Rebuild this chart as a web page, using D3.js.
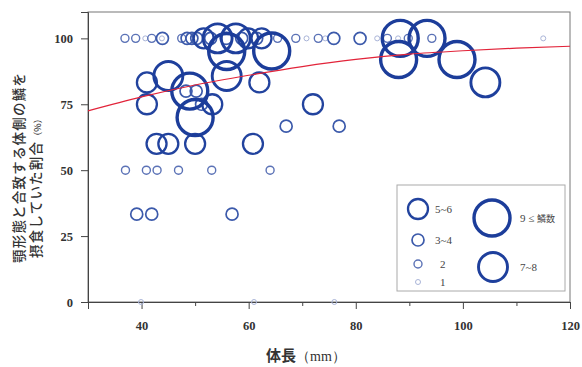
<!DOCTYPE html>
<html>
<head>
<meta charset="utf-8">
<script src="https://cdn.jsdelivr.net/npm/d3@7"></script>
<style>
  body { margin: 0; background: #fff; }
  .tick text { font-family: "Liberation Serif", serif; font-weight: bold; font-size: 12.5px; fill: #333; }
</style>
</head>
<body>
<div id="chart"></div>
<script>
// body length (mm), ratio of scales matching jaw morphology (%), scale count class
const lengths = [
  36.9, 38.9, 40.7, 41.9, 43.9, 43.8, 47.5, 48.5, 49.4, 50.3, 51.6, 54.2, 57.6, 59.9,
  52.9, 55.8, 58.7, 62.4, 61.5, 65.4, 68.8, 70.8, 73.0, 74.3, 75.9, 80.8, 84.0, 85.9,
  87.9, 89.8, 94.2, 88.3, 93.3, 115.0,
  41.0, 45.0, 49.0, 50.0, 41.0, 48.3, 50.2, 51.2, 53.2, 55.9, 55.9, 62.0, 64.3,
  42.8, 45.0, 50.0, 60.8,
  37.0, 40.9, 42.9, 46.9, 53.1, 64.0,
  39.1, 41.9, 56.9,
  39.9, 61.0, 76.0,
  67.0, 76.9, 72.0, 88.0, 98.9, 104.2
];
const ratios = [
  100, 100, 100, 100, 100, 100, 100, 100, 100, 100, 100, 100, 100, 100,
  100, 100, 100, 100, 100, 100, 100, 100, 100, 100, 100, 100, 100, 100,
  100, 100, 100, 100, 100, 100,
  83.3, 85.7, 80, 70, 75, 80, 80, 75, 75, 85.7, 95, 83.3, 95.2,
  60, 60, 60, 60,
  50, 50, 50, 50, 50, 50,
  33.3, 33.3, 33.3,
  0, 0, 0,
  66.7, 66.7, 75, 92, 92, 83.3
];
const classes = [
  "2", "2", "1", "2", "3~4", "1", "2", "3~4", "3~4", "3~4", "5~6", "7~8", "7~8", "5~6",
  "3~4", "3~4", "3~4", "5~6", "3~4", "2", "2", "1", "2", "1", "3~4", "3~4", "1", "2",
  "1", "2", "2", "9≤", "9≤", "1",
  "5~6", "7~8", "9≤", "9≤", "5~6", "3~4", "3~4", "3~4", "5~6", "7~8", "9≤", "5~6", "9≤",
  "5~6", "5~6", "5~6", "5~6",
  "2", "2", "2", "2", "2", "2",
  "3~4", "3~4", "3~4",
  "1", "1", "1",
  "3~4", "3~4", "5~6", "9≤", "9≤", "7~8"
];

const classOrder = ["1", "2", "3~4", "5~6", "7~8", "9≤"];
const xTicks = [40, 60, 80, 100, 120];
const xMinorTicks = [30, 50, 70, 90, 110];
const yTicks = [0, 25, 50, 75, 100];

// fitted curve
const trendX = [30, 40, 50, 60, 70, 80, 90, 100, 110, 120];
const trendY = [72.5, 77.8, 82.3, 86.0, 89.3, 92.0, 94.0, 95.3, 96.3, 97.0];

const width = 582, height = 367;
const plotLeft = 88, plotRight = 570, plotTop = 12, plotBottom = 302;

const svg = d3.select("#chart").append("svg")
  .attr("width", width)
  .attr("height", height);

const x = d3.scaleLinear().domain([30, 120]).range([plotLeft, plotRight]);
const y = d3.scaleLinear().domain([0, 110]).range([plotBottom, plotTop]);

const radius = d3.scaleOrdinal().domain(classOrder).range([2.5, 4, 6, 10, 14.5, 18]);
const stroke = d3.scaleOrdinal().domain(classOrder).range(["#a9b4d8", "#5b72b6", "#3c5aab", "#22439e", "#1e3f9c", "#1c3d9a"]);
const strokeW = d3.scaleOrdinal().domain(classOrder).range([1, 1.4, 1.7, 2.3, 2.9, 3.4]);

// frame
svg.append("rect")
  .attr("x", plotLeft).attr("y", plotTop)
  .attr("width", plotRight - plotLeft).attr("height", plotBottom - plotTop)
  .attr("fill", "none").attr("stroke", "#777").attr("stroke-width", 1);

// axes
svg.append("g")
  .attr("transform", "translate(0," + plotBottom + ")")
  .call(d3.axisBottom(x).tickValues(xTicks).tickSize(7).tickPadding(12).tickFormat(d3.format("d")));
svg.append("g")
  .attr("transform", "translate(0," + plotBottom + ")")
  .call(d3.axisBottom(x).tickValues(xMinorTicks).tickSize(4).tickFormat(""))
  .select(".domain").remove();
svg.append("g")
  .attr("transform", "translate(" + plotLeft + ",0)")
  .call(d3.axisLeft(y).tickValues(yTicks).tickSize(7).tickPadding(8));

svg.selectAll(".domain").attr("stroke", "#444");
svg.selectAll(".tick line").attr("stroke", "#444");

// bubbles
const points = lengths.map((d, i) => ({ len: d, ratio: ratios[i], cls: classes[i] }))
  .sort((a, b) => classOrder.indexOf(a.cls) - classOrder.indexOf(b.cls));

svg.append("g").selectAll("circle")
  .data(points)
  .enter().append("circle")
  .attr("cx", d => x(d.len))
  .attr("cy", d => y(d.ratio))
  .attr("r", d => radius(d.cls))
  .attr("fill", "none")
  .attr("stroke", d => stroke(d.cls))
  .attr("stroke-width", d => strokeW(d.cls));

// trend curve
const line = d3.line()
  .x(d => x(d[0]))
  .y(d => y(d[1]))
  .curve(d3.curveMonotoneX);
svg.append("path")
  .datum(trendX.map((d, i) => [d, trendY[i]]))
  .attr("d", line)
  .attr("fill", "none")
  .attr("stroke", "#e2243a")
  .attr("stroke-width", 1.2);

// legend
const legend = svg.append("g");
legend.append("rect")
  .attr("x", 397).attr("y", 185)
  .attr("width", 168).attr("height", 106)
  .attr("fill", "#fff").attr("stroke", "#aaa").attr("stroke-width", 1);

const legendItems = [
  { cls: "5~6", cx: 418, cy: 209, label: "5~6", tx: 435 },
  { cls: "3~4", cx: 418, cy: 240, label: "3~4", tx: 435 },
  { cls: "2", cx: 418, cy: 264, label: "2", tx: 440 },
  { cls: "1", cx: 418, cy: 282, label: "1", tx: 440 },
  { cls: "9≤", cx: 492, cy: 218, label: "9 ≤ ", tx: 520 },
  { cls: "7~8", cx: 493, cy: 267, label: "7~8", tx: 520 }
];
legend.selectAll("circle")
  .data(legendItems)
  .enter().append("circle")
  .attr("cx", d => d.cx).attr("cy", d => d.cy)
  .attr("r", d => radius(d.cls))
  .attr("fill", "none")
  .attr("stroke", d => stroke(d.cls))
  .attr("stroke-width", d => strokeW(d.cls));
const lt = legend.selectAll("text")
  .data(legendItems)
  .enter().append("text")
  .attr("x", d => d.tx).attr("y", d => d.cy + 4)
  .attr("font-family", "Liberation Serif, serif")
  .attr("font-size", 11)
  .attr("fill", "#444")
  .text(d => d.label);
lt.filter(d => d.cls === "9≤").append("tspan")
  .attr("font-family", "Noto Sans CJK JP")
  .attr("font-size", 9)
  .text("鱗数");

// axis titles
svg.append("text")
  .attr("x", 266).attr("y", 361)
  .attr("font-family", "Noto Sans CJK JP")
  .attr("font-size", 15)
  .attr("font-weight", "bold")
  .attr("fill", "#333")
  .text("体長")
  .append("tspan")
  .attr("font-family", "Liberation Serif, serif")
  .attr("font-weight", "normal")
  .attr("font-size", 14)
  .text("（mm）");

const yTitle = svg.append("g").attr("font-family", "Noto Sans CJK JP").attr("fill", "#333");
yTitle.append("text")
  .attr("transform", "translate(24,263) rotate(-90)")
  .attr("font-size", 13.5)
  .attr("letter-spacing", 1.2)
  .attr("font-weight", 500)
  .text("顎形態と合致する体側の鱗を");
yTitle.append("text")
  .attr("transform", "translate(41,258) rotate(-90)")
  .attr("font-size", 13.5)
  .attr("letter-spacing", 1.2)
  .attr("font-weight", 500)
  .text("摂食していた割合")
  .append("tspan")
  .attr("font-size", 9)
  .attr("letter-spacing", 0)
  .text("（%）");
</script>
</body>
</html>
